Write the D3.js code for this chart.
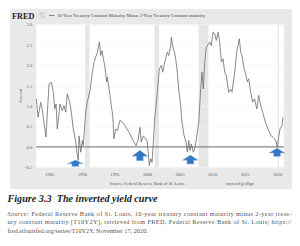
<!DOCTYPE html>
<html>
<head>
<meta charset="utf-8">
<script src="https://cdn.jsdelivr.net/npm/d3@7"></script>
<style>
body { margin: 0; background: #fff; }
svg { display: block; }
text { font-family: "Liberation Serif", "DejaVu Serif", serif; }
</style>
</head>
<body>
<svg id="chart" width="300" height="246"></svg>
<script>
// T10Y2Y (decimal year, percent)
const years = [
    1983.0, 1983.27, 1983.68, 1983.93, 1984.49, 1984.95, 1985.31, 1985.61, 1985.83, 1986.03,
    1986.23, 1986.64, 1987.0, 1987.26, 1987.52, 1987.76, 1988.13, 1988.38, 1988.68, 1989.05,
    1989.3, 1989.45, 1989.56, 1989.82, 1990.07, 1990.22, 1990.59, 1990.83, 1991.25, 1991.6,
    1991.86, 1992.37, 1992.68, 1992.89, 1993.09, 1993.29, 1993.5, 1993.81, 1993.9, 1994.32,
    1994.52, 1994.73, 1994.93, 1995.19, 1995.44, 1995.85, 1996.21, 1996.47, 1996.88, 1997.24,
    1997.59, 1998.0, 1998.31, 1998.62, 1998.92, 1999.12, 1999.43, 1999.8, 2000.04, 2000.2,
    2000.35, 2000.56, 2000.77, 2000.97, 2001.18, 2001.49, 2001.89, 2002.2, 2002.41, 2002.72,
    2003.12, 2003.33, 2003.64, 2003.73, 2003.99, 2004.34, 2004.65, 2004.86, 2005.17, 2005.37,
    2005.68, 2005.99, 2006.19, 2006.4, 2006.6, 2006.8, 2007.11, 2007.32, 2007.63, 2007.94,
    2008.24, 2008.44, 2008.64, 2008.86, 2009.1, 2009.62, 2009.87, 2010.13, 2010.39, 2010.64,
    2010.9, 2011.16, 2011.41, 2011.67, 2011.93, 2012.17, 2012.54, 2012.85, 2013.05, 2013.46,
    2013.77, 2013.97, 2014.17, 2014.39, 2014.58, 2014.89, 2015.09, 2015.4, 2015.61, 2015.92,
    2016.22, 2016.53, 2016.84, 2017.15, 2017.45, 2017.76, 2018.16, 2018.57, 2018.99, 2019.34,
    2019.6, 2019.85, 2020.0, 2020.21, 2020.41, 2020.72, 2020.88
];
const spread = [
    1.18, 0.73, 1.09, 0.89, 0.24, 1.54, 1.58, 1.34, 0.93, 1.05,
    0.44, 1.05, 0.89, 1.01, 0.85, 1.30, 1.10, 0.85, 0.44, 0.12,
    -0.21, -0.33, 0.27, -0.13, 0.16, 0.03, 0.85, 1.10, 1.38, 1.83,
    2.07, 2.32, 2.57, 2.24, 2.36, 2.16, 2.00, 1.59, 1.71, 1.26,
    1.01, 0.77, 0.20, 0.44, 0.40, 0.65, 0.61, 0.56, 0.44, 0.36,
    0.24, 0.12, 0.03, 0.16, 0.48, 0.12, 0.27, 0.20, 0.12, -0.17,
    -0.46, -0.29, -0.38, 0.12, 0.69, 1.18, 1.91, 2.00, 1.83, 2.08,
    2.32, 2.24, 2.48, 2.69, 2.44, 2.24, 1.83, 1.42, 1.01, 0.61,
    0.28, 0.12, -0.13, 0.16, -0.09, 0.07, -0.13, -0.05, 0.24, 0.61,
    1.42, 1.83, 1.42, 2.08, 2.44, 2.57, 2.48, 2.81, 2.77, 2.61,
    2.81, 2.57, 2.08, 2.16, 1.83, 1.75, 1.34, 1.42, 1.34, 1.83,
    2.32, 2.48, 2.65, 2.32, 2.24, 1.91, 1.83, 1.59, 1.67, 1.34,
    1.10, 1.18, 0.93, 1.26, 1.01, 0.85, 0.61, 0.44, 0.28, 0.24,
    0.20, 0.12, -0.01, 0.24, 0.44, 0.52, 0.73
];

// NBER recessions
const recessionStart = [1990.5, 2001.17, 2007.92, 2020.08];
const recessionEnd = [1991.17, 2001.83, 2009.42, 2020.25];

// blue arrows under each inversion (tip position)
const arrowYears = [1989.0, 1998.9, 2006.65, 2019.96];
const arrowTips = [-0.32, -0.08, -0.2, -0.03];

const yTicks = [-0.5, 0, 0.5, 1.0, 1.5, 2.0, 2.5, 3.0];
const xTicks = [1985, 1990, 1995, 2000, 2005, 2010, 2015, 2020];

const seriesTitle = "10-Year Treasury Constant Maturity Minus 2-Year Treasury Constant maturity";
const captionTitle = "Figure 3.3\u00a0\u00a0The inverted yield curve";
const sourceLines = [
    "Federal Reserve Bank of St. Louis, 10-year treasury constant maturity minus 2-year treas-",
    "ury constant maturity [T10Y2Y], retrieved from FRED, Federal Reserve Bank of St. Louis; https://",
    "fred.stlouisfed.org/series/T10Y2Y, November 17, 2020."
];

const plot = { left: 36.3, right: 283.8, top: 24.5, bottom: 167.3 };
const arrowHeights = [6.5, 10.5, 9, 8.5];

const svg = d3.select("#chart");

// grey FRED panel
svg.append("rect")
    .attr("x", 10).attr("y", 9)
    .attr("width", 282).attr("height", 180)
    .attr("fill", "#e9e9e9");

const x = d3.scaleLinear().domain([1983, 2021]).range([plot.left, plot.right]);
const y = d3.scaleLinear().domain([-0.5, 3.0]).range([plot.bottom, plot.top]);

svg.append("rect")
    .attr("x", plot.left).attr("y", plot.top)
    .attr("width", plot.right - plot.left).attr("height", plot.bottom - plot.top)
    .attr("fill", "#fff");

// recession bars
svg.append("g")
    .selectAll("rect")
    .data(recessionStart)
    .join("rect")
    .attr("x", (d) => x(d))
    .attr("y", plot.top)
    .attr("width", (d, i) => x(recessionEnd[i]) - x(d))
    .attr("height", plot.bottom - plot.top)
    .attr("fill", "#e6e6e6");

// y axis + gridlines
const yAxis = svg.append("g")
    .attr("transform", `translate(${plot.left},0)`)
    .call(d3.axisLeft(y)
        .tickValues(yTicks)
        .tickFormat(d3.format(".1f"))
        .tickSize(-(plot.right - plot.left))
        .tickPadding(4));
yAxis.select(".domain").remove();
yAxis.selectAll(".tick line").attr("stroke", "#f1f1f1").attr("stroke-width", 0.6);
yAxis.selectAll(".tick text")
    .attr("font-family", "Liberation Serif")
    .attr("font-size", 4.6)
    .attr("fill", "#666");

// x axis labels
const xAxis = svg.append("g")
    .attr("transform", `translate(0,${plot.bottom})`)
    .call(d3.axisBottom(x).tickValues(xTicks).tickFormat(d3.format("d")).tickSize(0).tickPadding(5));
xAxis.select(".domain").remove();
xAxis.selectAll(".tick text")
    .attr("font-family", "Liberation Serif")
    .attr("font-size", 4.6)
    .attr("fill", "#666");

svg.append("text")
    .attr("transform", `translate(21.5,${(plot.top + plot.bottom) / 2}) rotate(-90)`)
    .attr("text-anchor", "middle")
    .attr("font-size", 4.6)
    .attr("fill", "#666")
    .text("Percent");

// zero line
svg.append("line")
    .attr("x1", plot.left).attr("x2", plot.right)
    .attr("y1", y(0)).attr("y2", y(0))
    .attr("stroke", "#4a4a4a")
    .attr("stroke-width", 0.8);

// series
const line = d3.line()
    .x((d, i) => x(years[i]))
    .y((d) => y(d));

svg.append("path")
    .datum(spread)
    .attr("d", line)
    .attr("fill", "none")
    .attr("stroke", "#6b6b6b")
    .attr("stroke-width", 0.8)
    .attr("stroke-linejoin", "round");

// arrows
svg.append("g")
    .selectAll("path")
    .data(arrowYears)
    .join("path")
    .attr("transform", (d, i) => `translate(${x(d)},${y(arrowTips[i])})`)
    .attr("d", (d, i) => {
        const h = arrowHeights[i];
        const head = h * 0.58;
        return `M0,0 L8,${head} L3.4,${head} L3.4,${h} L-3.4,${h} L-3.4,${head} L-8,${head} Z`;
    })
    .attr("fill", "#3577c4")
    .attr("stroke", "#9cc0e6")
    .attr("stroke-width", 0.5)
    .attr("stroke-linejoin", "round");

// header
svg.append("text")
    .attr("x", 12).attr("y", 18.6)
    .attr("font-family", "Liberation Sans, Arial, sans-serif")
    .attr("font-weight", "bold")
    .attr("font-size", 8.2)
    .attr("fill", "#222")
    .text("FRED");

const icon = svg.append("g").attr("transform", "translate(39.5,12.5)");
icon.append("rect").attr("width", 5.5).attr("height", 5.5).attr("fill", "#d4d4d4");
icon.append("path")
    .attr("d", "M0.8,4.6 L2,2.8 L3.2,3.6 L4.8,1")
    .attr("fill", "none").attr("stroke", "#f5f5f5").attr("stroke-width", 0.7);

svg.append("line")
    .attr("x1", 49).attr("x2", 54.5)
    .attr("y1", 15.5).attr("y2", 15.5)
    .attr("stroke", "#555").attr("stroke-width", 0.7);

svg.append("text")
    .attr("x", 57).attr("y", 17)
    .attr("font-size", 4.5)
    .attr("fill", "#444")
    .attr("textLength", 148)
    .attr("lengthAdjust", "spacingAndGlyphs")
    .text(seriesTitle);

// panel footer
svg.append("text")
    .attr("x", 147).attr("y", 185)
    .attr("text-anchor", "middle")
    .attr("font-size", 4.4)
    .attr("fill", "#555")
    .text("Source: Federal Reserve Bank of St. Louis");

svg.append("text")
    .attr("x", 240).attr("y", 185)
    .attr("text-anchor", "middle")
    .attr("font-size", 4.4)
    .attr("fill", "#555")
    .text("myf.red/g/xRgn");

// caption
svg.append("text")
    .attr("x", 7.5).attr("y", 202)
    .attr("font-weight", "bold")
    .attr("font-style", "italic")
    .attr("font-size", 10.4)
    .attr("fill", "#1a1a1a")
    .attr("textLength", 150)
    .attr("lengthAdjust", "spacingAndGlyphs")
    .text(captionTitle);

const src = svg.append("g").attr("fill", "#555").attr("font-size", 6.3);
src.selectAll("text")
    .data(sourceLines)
    .join("text")
    .attr("x", 7.5)
    .attr("y", (d, i) => 216 + i * 8.3)
    .attr("textLength", (d, i) => (i < 2 ? 284 : null))
    .attr("lengthAdjust", "spacing")
    .each(function (d, i) {
        const t = d3.select(this);
        if (i === 0) {
            t.append("tspan").attr("font-style", "italic").text("Source: ");
            t.append("tspan").text(d);
        } else {
            t.text(d);
        }
    });
</script>
</body>
</html>
